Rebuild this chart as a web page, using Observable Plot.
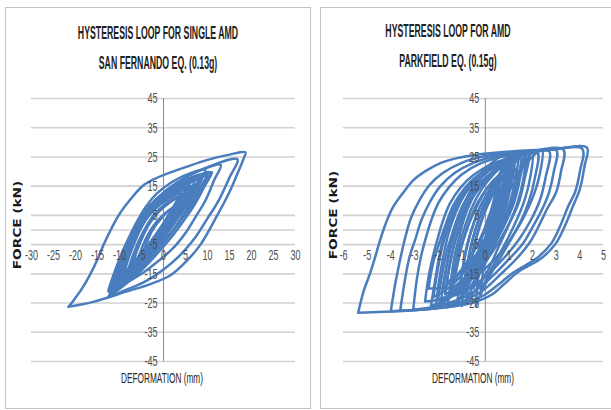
<!DOCTYPE html>
<html>
<head>
<meta charset="utf-8">
<script src="https://cdn.jsdelivr.net/npm/d3@7"></script>
<script src="https://cdn.jsdelivr.net/npm/@observablehq/plot@0.6"></script>
<style>
  html, body { margin: 0; padding: 0; background: #fff; }
  #page { position: relative; width: 611px; height: 410px; overflow: hidden; font-family: "Liberation Sans", Arial, sans-serif; }
  .panel { position: absolute; border: 1.5px solid #c4c4c4; box-sizing: border-box; }
  .title { position: absolute; white-space: nowrap; font-size: 19px; font-weight: bold; color: #222; transform: translate(-50%, -50%) scaleX(0.46); }
  .ylab { position: absolute; white-space: nowrap; font-family: "DejaVu Sans", sans-serif; font-weight: bold; font-size: 10.5px; color: #1a1a1a; transform: translate(-50%, -50%) rotate(-90deg) scaleX(1.3); }
  .xlab { position: absolute; white-space: nowrap; font-size: 14px; color: #262626; transform: translate(-50%, -50%) scaleX(0.59); }
  .chart { position: absolute; top: 80px; }
</style>
</head>
<body>
<div id="page">
  <div class="panel" style="left:5px; top:7px; width:306px; height:402px;"></div>
  <div class="panel" style="left:320px; top:7px; width:300px; height:402px;"></div>
  <div class="title" style="left:158px; top:33px;">HYSTERESIS LOOP FOR SINGLE AMD</div>
  <div class="title" style="left:158px; top:63px;">SAN FERNANDO EQ. (0.13g)</div>
  <div class="title" style="left:448px; top:31px;">HYSTERESIS LOOP FOR AMD</div>
  <div class="title" style="left:448px; top:61px;">PARKFIELD EQ. (0.15g)</div>
  <div class="ylab" style="left:17px; top:225px;">FORCE (kN)</div>
  <div class="ylab" style="left:333px; top:215px;">FORCE (kN)</div>
  <div class="xlab" style="left:162px; top:378px;">DEFORMATION (mm)</div>
  <div class="xlab" style="left:473px; top:378px;">DEFORMATION (mm)</div>
  <div id="left" class="chart" style="left:0px;"></div>
  <div id="right" class="chart" style="left:315px;"></div>
</div>
<script>
// ---------- tick labels ----------
const yTicks = [-45, -35, -25, -15, -5, 5, 15, 25, 35, 45];
const xTicksLeft = [-30, -25, -20, -15, -10, -5, 0, 5, 10, 15, 20, 25, 30];
const xTicksRight = [-6, -5, -4, -3, -2, -1, 0, 1, 2, 3, 4, 5];

// ---------- San Fernando EQ. loops (deformation mm, force kN), flat x,y pairs ----------
const leftLoops = [
  [-21.6,-26.3, -20.4,-24, -18.5,-20, -16.6,-15, -15,-10, -13.6,-5, -12,0, -10.2,5, -7.5,10.5, -4.8,15, -2,17.5, 0,18.8, 5,21.5, 10,24, 15,25.8, 18.6,26.6,
   18.1,24, 17,20, 15.6,15, 14,10, 12.2,5, 8.4,-5, 5,-11, 1.6,-15.5, -3,-18.5, -8.3,-21, -16,-24.6, -21.6,-26.3],
  [-12.5,-22.8, -10.5,-17, -8.5,-10, -6.5,-3, -4.5,3, -2,8.5, 1,13.5, 5,18, 10,21.5, 16.8,24.2,
   15,18, 12.5,10, 10,4, 7,-3, 3.5,-9, 0,-13.5, -4,-17.5, -8.5,-20.5, -12.5,-22.8],
  [-12.5,-21, -10.5,-15, -8.5,-8, -6.5,-1, -4.5,4.5, -2,9.5, 1,14, 5,18, 9,20.8, 13,22.3,
   11.5,17, 9.5,10, 7.5,5, 5,-1, 2,-6.5, -1.5,-11, -5,-15, -9,-18.5, -12.5,-21],
  [-12,-20, -11,-15, -9.5,-8, -8,-3, -6,3, -4,8, -1.5,12.5, 1.5,16, 5,18.8, 9.5,20.5,
   8,16.5, 6.5,13, 4.5,9, 2,4, -0.5,-2, -3,-7.5, -6.5,-13, -9.5,-17, -12,-20],
  [-11.5,-19.5, -10.5,-14, -9,-8, -7.5,-2.5, -5.5,3, -3.5,7.5, -1,11.5, 2,15, 5.5,17.5, 8.5,19,
   7,14.5, 5,10, 3,5.5, 0.5,0, -2,-5.5, -5,-11, -8,-15.5, -11.5,-19.5],
  [-11,-18, -10,-12.5, -8.5,-6.5, -7,-1, -5,4, -3,8, 0,12, 3,14.5, 7,17,
   5.5,12, 3.5,7, 1.5,2.5, -1,-3, -3.5,-8, -6.5,-13, -11,-18],
  [-12,-21.5, -10.5,-15, -9,-9, -7.5,-3.5, -6,1.5, -4,6.5, -1.5,10.5, 2,14, 6,17, 10,19.5,
   8.5,15, 6.5,10, 4,4, 1.5,-1.5, -1.5,-7, -4.5,-12, -8,-17, -12,-21.5],
  [-9,-15, -8,-10, -6.5,-4, -5,1, -3,6, -0.5,10, 3,13, 6,15,
   4.5,10.5, 2.5,5.5, 0.5,1, -2,-4, -4.5,-8.5, -9,-15],
  [-7,-12, -6,-7, -4.5,-1.5, -2.5,4, 0,8, 3,11, 5,12,
   3.5,7.5, 1.5,3, -1,-2, -3.5,-6.5, -7,-12],
  [-12.5,-20.5, -11.5,-16, -10,-10, -8,-4.5, -6.5,0, -4.5,5, -2,9.5, 1,13, 4.5,16, 8,18, 11,19.8,
   9.5,15.5, 7.5,11, 5,6, 2.5,0.5, -0.5,-5, -4,-10.5, -8,-16, -12.5,-20.5],
  [-5,-9, -4,-5, -2.5,0, -0.5,4, 2,7.5, 4,9,
   2.5,5.5, 0.5,1, -2,-3.5, -5,-9],
  [-10,-17, -9,-12, -7.8,-6, -6.3,-0.5, -4.2,5, -1.5,9.5, 1.5,12.5, 5,15.5, 8,17.5,
   6.5,13, 4.5,8, 2.2,3, -0.5,-2.5, -3.5,-8, -6.5,-12.5, -10,-17],
  [-12.2,-22.5, -11,-17.5, -9.8,-12, -8.3,-6, -6.8,-1, -5,4, -2.8,8.5, 0,12.5, 3.5,15.5, 7,18, 10.5,19.8,
   9,14, 7,8.5, 4.5,3, 1.5,-3, -2,-9, -5.5,-14.5, -9,-19, -12.2,-22.5],
  [-11.8,-20.5, -10.8,-15.5, -9.2,-9, -7.7,-3.5, -5.8,2, -3.8,7, -1.2,11, 2,14.5, 5.5,17, 9,19,
   7.5,14, 5.5,9, 3,3.5, 0.5,-2, -2.5,-7.5, -6,-13, -9,-17, -11.8,-20.5],
  [-11.2,-19, -10.2,-14, -8.8,-8.5, -7.2,-3, -5.3,2.5, -3.2,7, -0.5,11, 2.5,14, 6,16.5,
   4.5,12, 2.8,7.5, 0.8,2.5, -1.5,-3, -4.5,-9, -7.5,-14, -11.2,-19],
  [-10.5,-18, -9.5,-13, -8,-7.5, -6.5,-2.5, -4.6,3, -2.5,7.5, 0.5,11, 4,13.5,
   3,10, 1.5,6, -0.5,1, -3,-4.5, -6,-10.5, -10.5,-18],
  [-8,-13.5, -7,-9, -5.7,-4, -4,1, -2,5.5, 0.5,9, 3.5,11.5,
   2.2,7.5, 0.5,3.5, -1.5,-1, -4,-6, -8,-13.5],
  [-6,-11, -5,-6.5, -3.5,-1.5, -1.5,3, 1,6.5, 2,7.5,
   0.8,4, -1,-0.5, -3,-5, -6,-11],
  [-12,-19.5, -10.8,-14.5, -9.4,-9, -8,-4, -6.3,1, -4.3,6, -2,10, 1,13.5, 4.5,16.5, 8.5,18.5,
   7,13.5, 5,8.5, 2.8,3.5, 0,-2, -3,-7.5, -6.8,-13.5, -12,-19.5],
  [-11.5,-21, -10.2,-15.5, -8.8,-10, -7.2,-4, -5.5,1, -3.5,5.5, -1,9.5, 2.5,13.5, 6.5,16.5, 10,18.5,
   8.5,14, 6.2,8, 3.8,3, 1,-2.5, -2.5,-8.5, -6.5,-15, -11.5,-21],
  [-9.5,-16, -8.5,-11, -7.2,-5.5, -5.6,-0.5, -3.6,4.5, -1,8.5, 2,12, 5,14.5,
   3.8,10.5, 2,5.5, -0.2,0.5, -2.8,-5, -5.8,-10.5, -9.5,-16],
  [-12.3,-21, -11.2,-16.5, -9.8,-10.5, -8.3,-5, -6.6,0.5, -4.6,5.5, -2.2,9.5, 1,13, 4.5,15.8, 8,17.8,
   6.5,12.5, 4.5,7.5, 2,2, -1,-4, -4.5,-10, -8.2,-16, -12.3,-21],
  [-10,-16.5, -9,-11.5, -7.6,-6.5, -6,-1.5, -4,3.5, -1.8,7.5, 1,10.5, 4,12.5,
   2.8,8.5, 1,4, -1.2,-1, -4,-6.5, -7,-11.5, -10,-16.5],
  [-7.5,-13, -6.5,-8.5, -5.2,-3.5, -3.5,1.5, -1.2,6, 1.5,9.5, 4.5,12,
   3,7, 1,2.5, -1.5,-2.5, -4.5,-8, -7.5,-13],
  [-11,-20, -9.8,-15, -8.3,-9.5, -6.7,-4, -4.9,1.5, -2.8,6, 0,10, 3.5,13, 7.5,15.5,
   6,11, 4,6, 1.5,0.5, -1.5,-5, -5,-11.5, -8,-16, -11,-20]
];

// ---------- Parkfield EQ. loops (deformation mm, force kN), flat x,y pairs ----------
const rightLoops = [
  [-5.38,-28.3, -5.15,-21, -4.87,-14.7, -4.65,-9, -4.45,-3.4, -4.2,2.5, -3.9,7.9, -3.5,12.5, -3.05,17, -2.5,20.3, -1.9,22.9, -1.2,24.6, -0.5,25.6, 0.5,26.5, 1.5,27.1, 3,27.7, 4.3,28.2,
   4.2,22, 4.0,14, 3.7,8, 3.4,2, 3.0,-4.4, 2.4,-9.5, 1.4,-14.3, 0.8,-18.5, 0.3,-22, -0.5,-24.8, -1.8,-26.6, -3.5,-27.7, -5.38,-28.3],
  [-4.0,-27.8, -3.8,-18, -3.6,-10, -3.4,-3, -3.15,4, -2.8,10, -2.35,15.5, -1.8,19.5, -1,23, 0,25.3, 1.2,26.6, 2.6,27.3, 4.1,27.8,
   4.0,20, 3.8,13, 3.5,8, 3.2,2, 2.8,-4.5, 2.2,-9.5, 1.2,-14.5, 0.5,-19, -0.1,-22.5, -0.9,-25, -2.2,-26.9, -4.0,-27.8],
  [-3.6,-27.6, -3.4,-17, -3.2,-9, -2.97,-3.4, -2.7,3.5, -2.35,9.5, -1.9,15, -1.3,19.5, -0.5,23, 0.5,25.3, 1.8,26.8, 3.3,27.5,
   3.2,20, 3.0,13, 2.6,7, 2.3,2, 1.9,-4, 1.3,-10, 0.6,-15.5, 0,-20, -0.7,-23.5, -1.8,-26.3, -3.6,-27.6],
  [-3.05,-27.3, -2.9,-17, -2.72,-9, -2.54,-3.4, -2.3,3, -2.0,9, -1.55,14.5, -1.0,19, -0.2,22.8, 0.8,25.2, 1.9,26.6, 3.0,27.3,
   2.9,20, 2.7,13, 2.4,7, 2.0,1, 1.6,-4.5, 1.0,-10, 0.4,-15, -0.2,-19.5, -0.9,-23, -1.9,-25.8, -3.05,-27.3],
  [-2.55,-24.5, -2.4,-16, -2.2,-8.5, -2.03,-3.4, -1.8,3, -1.5,9, -1.05,14.5, -0.5,18.8, 0.2,22.3, 1.1,24.8, 1.9,26.2, 2.7,27,
   2.55,18, 2.3,10, 1.9,3, 1.4,-3.5, 0.8,-9.5, 0.2,-14.5, -0.4,-18.5, -1.1,-21.8, -1.8,-23.5, -2.55,-24.5],
  [-2.4,-20, -2.2,-11, -1.9,-3.4, -1.65,2.5, -1.35,8.5, -0.9,14, -0.35,18.5, 0.4,22, 1.3,24.8, 2.2,26.5,
   2.1,18, 1.85,10, 1.5,3, 1.0,-4, 0.4,-10, -0.2,-14.5, -0.9,-18, -1.6,-19.8, -2.4,-20],
  [-2.0,-24, -1.8,-14, -1.62,-7, -1.48,-3.4, -1.25,2.5, -0.95,8.5, -0.5,14, 0.1,18.5, 0.8,22.5, 1.8,26,
   1.65,17, 1.4,9, 1.0,2, 0.5,-5, 0,-11, -0.5,-16, -1.1,-20.5, -2.0,-24],
  [-1.7,-22, -1.5,-12, -1.27,-3.4, -1.0,3, -0.7,9, -0.25,14.5, 0.3,19, 0.9,22.5, 1.5,25,
   1.35,16, 1.1,8, 0.7,1, 0.25,-6, -0.25,-12, -0.8,-17.5, -1.7,-22],
  [-1.4,-20, -1.2,-10, -0.93,-3.4, -0.65,3, -0.3,9, 0.1,14.5, 0.6,19, 1.2,23,
   1.05,14, 0.8,6, 0.4,-1, 0,-7.5, -0.5,-13.5, -1.4,-20],
  [-1.2,-25, -1.0,-15, -0.8,-6, -0.55,1, -0.25,7.5, 0.15,13.5, 0.55,18.5, 1.0,24,
   0.85,14, 0.6,6, 0.25,-2, -0.15,-9, -0.6,-17, -1.2,-25],
  [-0.9,-18, -0.7,-9, -0.5,-2, -0.25,4.5, 0.05,10.5, 0.4,15.5, 0.8,20,
   0.65,11, 0.4,3, 0.05,-4, -0.35,-10.5, -0.9,-18],
  [-0.7,-14, -0.5,-6, -0.3,0, -0.05,6, 0.25,11.5, 0.6,16,
   0.45,8, 0.2,1, -0.15,-6, -0.7,-14],
  [-1.6,-26.5, -1.45,-17, -1.3,-9, -1.1,-2, -0.85,5, -0.5,11.5, 0,17, 0.5,21.5, 1.0,25, 1.4,27,
   1.3,19, 1.1,11, 0.8,4, 0.4,-3, 0,-10, -0.4,-16.5, -0.9,-22, -1.6,-26.5],
  [-0.4,-26, -0.3,-16, -0.15,-8, 0.1,0, 0.4,7, 0.8,13.5, 1.3,19, 1.8,23.5, 2.4,27.5,
   2.3,19, 2.0,11, 1.6,4, 1.1,-3, 0.6,-10, 0.1,-17, -0.2,-22, -0.4,-26],
  [-2.1,-26.8, -1.95,-17, -1.75,-8, -1.55,-1, -1.25,6, -0.85,12.5, -0.35,18, 0.2,22.5, 1.0,26.3,
   0.9,18, 0.7,10, 0.35,2, -0.1,-6, -0.6,-13, -1.2,-20, -2.1,-26.8],
  [-1.9,-25.5, -1.7,-15, -1.5,-6, -1.3,0, -1.0,7, -0.65,13, -0.15,18, 0.45,22, 1.2,25.5,
   1.05,16, 0.8,8, 0.45,0, 0,-7, -0.5,-14, -1.1,-20.5, -1.9,-25.5],
  [-1.5,-23, -1.3,-13, -1.1,-5, -0.85,1.5, -0.55,8, -0.15,14, 0.35,19, 0.9,23.5,
   0.75,14, 0.5,6, 0.15,-1, -0.3,-8, -0.8,-15.5, -1.5,-23],
  [-1.1,-22, -0.95,-13, -0.75,-5, -0.5,2, -0.2,8, 0.2,14, 0.65,19.5, 1.1,24,
   0.95,15, 0.7,7, 0.35,0, -0.05,-7, -0.5,-14.5, -1.1,-22],
  [-0.8,-24, -0.65,-14, -0.45,-5, -0.2,2, 0.1,8.5, 0.45,14, 0.9,19.5, 1.5,25.5,
   1.35,16, 1.1,8, 0.75,1, 0.3,-6, -0.15,-13, -0.8,-24],
  [-2.2,-23, -2.0,-13, -1.8,-5, -1.55,1, -1.25,7, -0.85,12.5, -0.3,17.5, 0.3,21.5, 1.0,24.5,
   0.85,15, 0.6,7, 0.2,-0.5, -0.3,-8, -0.9,-14.5, -1.5,-19.5, -2.2,-23],
  [-1.3,-17, -1.1,-9, -0.9,-2.5, -0.65,3.5, -0.35,9, 0.05,14, 0.5,18,
   0.35,10, 0.1,3, -0.25,-3.5, -0.7,-10, -1.3,-17],
  [-0.5,-20, -0.35,-11, -0.15,-3, 0.1,3.5, 0.4,9.5, 0.75,15, 1.1,20,
   0.95,11, 0.7,4, 0.35,-3, -0.05,-10.5, -0.5,-20],
  [-1.8,-20, -1.6,-11, -1.4,-4, -1.15,2, -0.85,8, -0.45,13.5, 0.05,18, 0.65,22,
   0.5,13, 0.25,5, -0.15,-2.5, -0.65,-9.5, -1.2,-15.5, -1.8,-20],
  [-0.2,-22, -0.05,-12, 0.15,-4, 0.45,3, 0.8,10, 1.2,16, 1.6,21.5, 2.0,26.5,
   1.9,18, 1.65,10, 1.3,3, 0.85,-4.5, 0.35,-12, 0,-17.5, -0.2,-22],
  [-1.0,-26, -0.85,-16, -0.65,-7, -0.4,0.5, -0.1,7, 0.3,13, 0.75,18.5, 1.25,23, 1.7,26.5,
   1.6,17, 1.35,9, 1.0,2, 0.55,-6, 0.1,-14, -0.4,-20.5, -1.0,-26],
  [-1.65,-18, -1.45,-9.5, -1.25,-3, -1.0,3, -0.7,9, -0.3,14, 0.2,18.5, 0.8,22,
   0.65,13, 0.4,5, 0.05,-2, -0.4,-8.5, -0.95,-14, -1.65,-18],
  [-0.3,-16, -0.15,-8, 0.05,-1.5, 0.3,5, 0.6,11, 0.95,16.5, 1.3,21,
   1.15,12, 0.9,5, 0.55,-2, 0.15,-9, -0.3,-16],
  [-2.3,-26, -2.1,-16, -1.9,-7, -1.7,-0.5, -1.4,6, -1.0,12, -0.5,17, 0.1,21, 0.8,24, 1.6,26.5,
   1.45,17, 1.2,9, 0.8,1.5, 0.3,-6, -0.3,-13, -1.0,-19.5, -1.6,-23.5, -2.3,-26]
];

const axisCross = 0;
const lineColor = "#4a7dbd";
const gridColor = "#d2d2d2";

function toRows(loops) {
  const rows = [];
  loops.forEach((arr, k) => {
    for (let i = 0; i < arr.length; i += 2) rows.push({loop: k, x: arr[i], y: arr[i + 1]});
  });
  return rows;
}

function makeChart(loops, xDomain, xTicks, dims) {
  const svg = Plot.plot({
    width: dims.width, height: 310,
    marginLeft: dims.ml, marginRight: dims.mr, marginTop: 18, marginBottom: 29,
    x: {domain: xDomain, axis: null},
    y: {domain: [-45, 45], axis: null},
    style: {background: "transparent", overflow: "visible", fontFamily: "Liberation Sans, Arial, sans-serif"},
    marks: [
      Plot.ruleY(yTicks, {stroke: gridColor, strokeWidth: 1.6}),
      Plot.ruleY([axisCross], {stroke: gridColor, strokeWidth: 1.6}),
      Plot.ruleX([axisCross], {stroke: "#8a8a8a", strokeWidth: 1}),
      Plot.line(toRows(loops), {x: "x", y: "y", z: "loop", stroke: lineColor, strokeWidth: 2.5, curve: "catmull-rom", strokeLinejoin: "round"}),
      Plot.text(yTicks, {x: () => axisCross, y: d => d, text: d => String(d).replace("-", "\u2011"), textAnchor: "end", dx: -6, fill: "#4d4d4d", fontSize: 15}),
      Plot.text(xTicks, {x: d => d, y: () => axisCross, text: d => String(d), dy: 25, fill: "#4d4d4d", fontSize: 15})
    ]
  });
  svg.querySelectorAll("text").forEach(t => {
    const tr = t.getAttribute("transform") || "";
    t.setAttribute("transform", tr + " scale(0.6,1)");
  });
  return svg;
}

document.getElementById("left").append(
  makeChart(leftLoops, [-30, 30], xTicksLeft, {width: 305, ml: 31, mr: 10})
);
document.getElementById("right").append(
  makeChart(rightLoops, [-6, 5], xTicksRight, {width: 296, ml: 28, mr: 8})
);
</script>
</body>
</html>
